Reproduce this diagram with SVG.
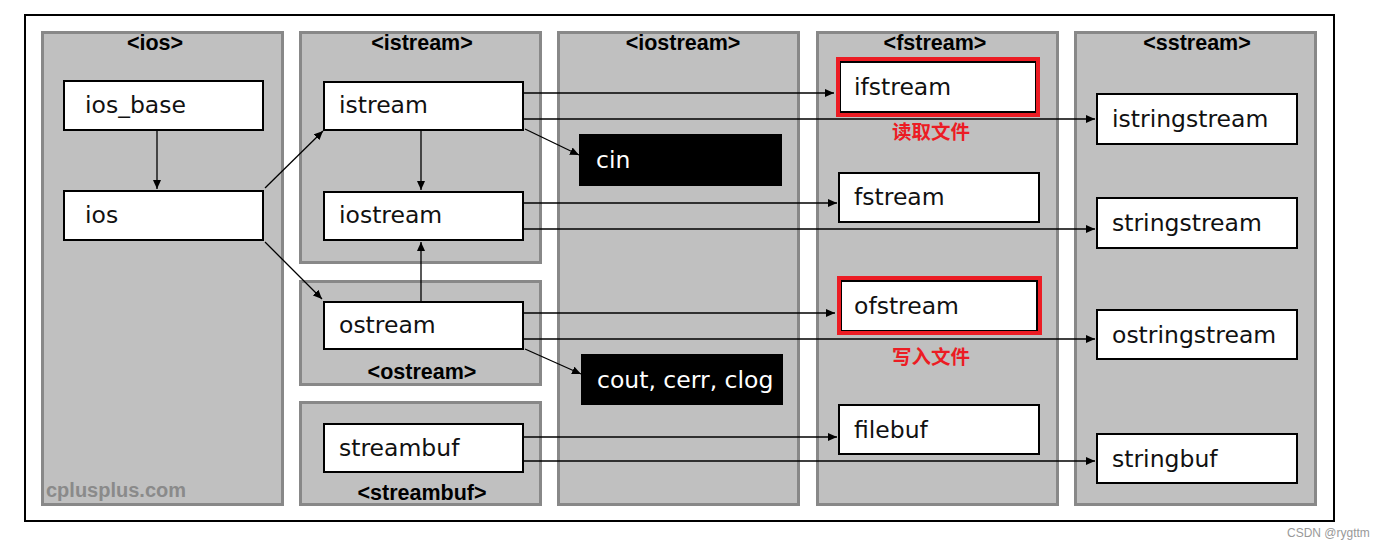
<svg xmlns="http://www.w3.org/2000/svg" width="1378" height="550" viewBox="0 0 1378 550">
<style>
.panel{fill:#c0c0c0;stroke:#888888;stroke-width:3}
.title{font-family:"Liberation Sans",Arial,sans-serif;font-weight:bold;font-size:21.5px;fill:#000;text-anchor:middle}
.node{fill:#fff;stroke:#000;stroke-width:2}
.dark{fill:#000;stroke:#000;stroke-width:2}
.lbl{font-family:"DejaVu Sans",Verdana,sans-serif;font-size:23.5px;fill:#111}
.wl{font-family:"DejaVu Sans",Verdana,sans-serif;font-size:23.5px;fill:#fff}
.red{fill:none;stroke:#ec1c24;stroke-width:4}
.note{font-family:"Noto Sans CJK SC",sans-serif;font-weight:bold;font-size:19.5px;fill:#ec1c24}
.conn line{stroke:#000;stroke-width:1.3;marker-end:url(#arr)}
</style>
<defs>
<marker id="arr" markerUnits="userSpaceOnUse" markerWidth="10" markerHeight="8" refX="9" refY="4" orient="auto">
<path d="M0,0 L9,4 L0,8 Z" fill="#000"/>
</marker>
</defs>
<rect x="0" y="0" width="1378" height="550" fill="#fff"/>
<rect x="25" y="15" width="1309" height="506" fill="#fff" stroke="#000" stroke-width="2"/>

<g id="panels">
<rect class="panel" x="42.5" y="32.5" width="240" height="472"/>
<text class="title" x="155" y="50">&lt;ios&gt;</text>
<text x="46" y="497" font-family="Liberation Sans,Arial,sans-serif" font-weight="bold" font-size="20" fill="#8a8a8a">cplusplus.com</text>
<rect class="panel" x="300.5" y="32.5" width="240" height="230"/>
<text class="title" x="422" y="50">&lt;istream&gt;</text>
<rect class="panel" x="300.5" y="281.5" width="240" height="103"/>
<text class="title" x="422" y="379">&lt;ostream&gt;</text>
<rect class="panel" x="300.5" y="402.5" width="240" height="102"/>
<text class="title" x="422" y="500">&lt;streambuf&gt;</text>
<rect class="panel" x="558.5" y="32.5" width="240" height="472"/>
<text class="title" x="683" y="50">&lt;iostream&gt;</text>
<rect class="panel" x="817.5" y="32.5" width="240" height="472"/>
<text class="title" x="935" y="50">&lt;fstream&gt;</text>
<rect class="panel" x="1075.5" y="32.5" width="240" height="472"/>
<text class="title" x="1197" y="50">&lt;sstream&gt;</text>
</g>

<g id="connectors" class="conn">
<line x1="157" y1="131" x2="157" y2="189"/>
<line x1="265" y1="188" x2="323" y2="131"/>
<line x1="265" y1="242" x2="322" y2="299"/>
<line x1="421" y1="131" x2="421" y2="190"/>
<line x1="421" y1="301" x2="421" y2="242"/>
<line x1="524" y1="93" x2="834" y2="93"/>
<line x1="524" y1="119" x2="1095" y2="119"/>
<line x1="525" y1="129" x2="579" y2="155"/>
<line x1="524" y1="203" x2="837" y2="203"/>
<line x1="524" y1="229" x2="1095" y2="229"/>
<line x1="524" y1="313" x2="835" y2="313"/>
<line x1="524" y1="339" x2="1095" y2="339"/>
<line x1="525" y1="349" x2="581" y2="374"/>
<line x1="524" y1="437" x2="837" y2="437"/>
<line x1="524" y1="461" x2="1095" y2="461"/>
</g>

<g id="ios_base"><rect class="node" x="64" y="81" width="199" height="49"/><text class="lbl" x="85" y="113">ios_base</text></g>
<g id="ios"><rect class="node" x="64" y="191" width="199" height="49"/><text class="lbl" x="85" y="223">ios</text></g>
<g id="istream"><rect class="node" x="324" y="82" width="199" height="48"/><text class="lbl" x="339" y="113">istream</text></g>
<g id="iostream"><rect class="node" x="324" y="192" width="199" height="48"/><text class="lbl" x="339" y="223">iostream</text></g>
<g id="ostream"><rect class="node" x="324" y="302" width="199" height="47"/><text class="lbl" x="339" y="333">ostream</text></g>
<g id="streambuf"><rect class="node" x="324" y="424" width="199" height="48"/><text class="lbl" x="339" y="456">streambuf</text></g>
<g id="cin"><rect class="dark" x="580" y="135" width="201" height="50"/><text class="wl" x="596" y="168">cin</text></g>
<g id="cout"><rect class="dark" x="582" y="355" width="200" height="49"/><text class="wl" x="597" y="388">cout, cerr, clog</text></g>
<g id="ifstream"><rect class="node" x="840" y="62" width="196" height="50"/><rect class="red" x="838" y="59" width="200" height="56"/><text class="lbl" x="854" y="95">ifstream</text></g>
<g id="note_read"><text class="note" x="892" y="139">读取文件</text></g>
<g id="fstream"><rect class="node" x="839" y="173" width="200" height="49"/><text class="lbl" x="854" y="205">fstream</text></g>
<g id="ofstream"><rect class="node" x="841" y="281" width="196" height="50"/><rect class="red" x="839" y="278" width="201" height="55"/><text class="lbl" x="854" y="314">ofstream</text></g>
<g id="note_write"><text class="note" x="892" y="364">写入文件</text></g>
<g id="filebuf"><rect class="node" x="839" y="405" width="200" height="49"/><text class="lbl" x="854" y="438">filebuf</text></g>
<g id="istringstream"><rect class="node" x="1097" y="94" width="200" height="50"/><text class="lbl" x="1112" y="127">istringstream</text></g>
<g id="stringstream"><rect class="node" x="1097" y="198" width="200" height="50"/><text class="lbl" x="1112" y="231">stringstream</text></g>
<g id="ostringstream"><rect class="node" x="1097" y="310" width="200" height="49"/><text class="lbl" x="1112" y="343">ostringstream</text></g>
<g id="stringbuf"><rect class="node" x="1097" y="434" width="200" height="49"/><text class="lbl" x="1112" y="467">stringbuf</text></g>

<text x="1287" y="537" font-family="Liberation Sans,Arial,sans-serif" font-size="12" fill="#999">CSDN @rygttm</text>
</svg>
